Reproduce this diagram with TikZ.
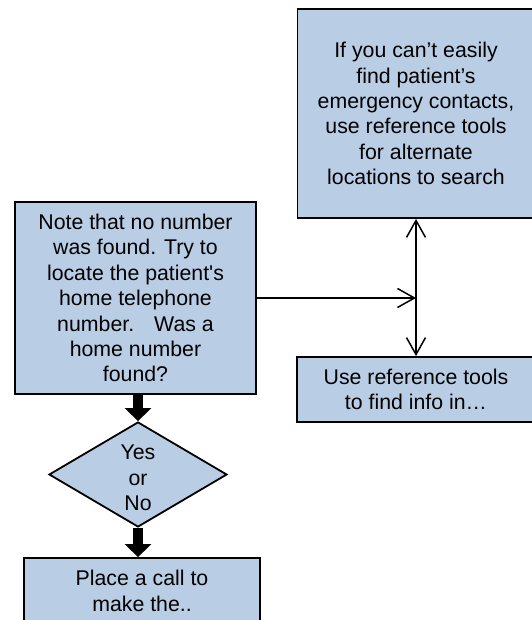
\documentclass[tikz,border=0pt]{standalone}
\usepackage{fontspec}
\setmainfont{Liberation Sans}
\usetikzlibrary{shapes.geometric,arrows.meta}
\definecolor{boxblue}{RGB}{185,205,229}
\tikzset{
  txt/.style={font=\fontsize{21.3}{25.4}\selectfont, align=center, text=black},
  stepbox/.style={txt, draw=black, line width=1.8pt, fill=boxblue, rectangle, inner sep=0pt},
  decision/.style={draw=black, line width=1.8pt, fill=boxblue, diamond, inner sep=0pt},
  thinarrow/.style={draw=black, line width=1.5pt, {Straight Barb[length=17pt,width=19pt]}-{Straight Barb[length=17pt,width=19pt]}},
  thinto/.style={draw=black, line width=1.5pt, -{Straight Barb[length=17pt,width=19pt]}},
  blockarrow/.style={draw=black, line width=10pt, -{Triangle[length=13pt,width=26pt]}}
}
\begin{document}
\begin{tikzpicture}[x=1pt,y=-1pt]
\useasboundingbox (0,0) rectangle (531,620);

% process boxes
\node[stepbox, minimum width=241pt, minimum height=192pt] (note) at (135.5,298)
  {Note that no number\\was found. Try to\\locate the patient\textquotesingle s\\home telephone\\number.\hspace{20pt}Was a\\home number\\found?};
\node[stepbox, minimum width=237pt, minimum height=209pt] (alt) at (416,113.5)
  {If you can’t easily\\find patient’s\\emergency contacts,\\use reference tools\\for alternate\\locations to search};
\node[stepbox, minimum width=238pt, minimum height=65pt] (ref) at (416,389.5)
  {Use reference tools\\to find info in…};
\node[stepbox, minimum width=236pt, minimum height=66pt] (call) at (142,591)
  {Place a call to\\make the..};

% decision
\node[decision, minimum width=178pt, minimum height=105pt] (dec) at (138,474.5) {};
\node[txt, inner sep=0pt] (dectext) at (138,478) {Yes\\or\\No};

% thin connectors
\coordinate (join) at (416,298);
\draw[thinto] (note.east |- join) -- (join);
\draw[thinarrow] (alt.south) -- (ref.north);

% block arrows
\draw[blockarrow] (dec.north |- note.south) -- (dec.north);
\draw[blockarrow] (dec.south) -- (dec.south |- call.north);
\end{tikzpicture}
\end{document}
